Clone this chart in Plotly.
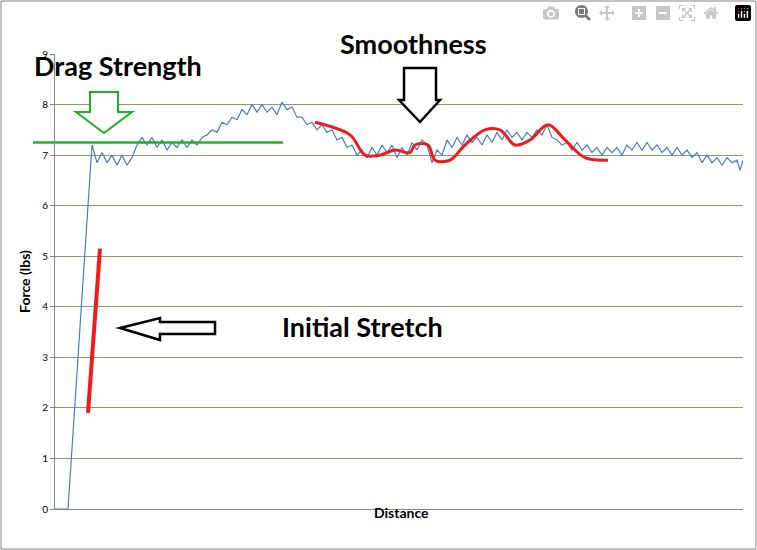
import plotly.graph_objects as go

# force trace (distance in arbitrary units)
dist = [0, 13, 37, 42, 47, 52, 57, 62, 67, 72, 77, 82, 87, 92, 97, 102, 107, 112, 117, 122,
        127, 132, 137, 142, 147, 152, 157, 162, 167, 172, 177, 182, 187, 192, 197, 202, 207,
        212, 217, 222, 227, 232, 237, 242, 247, 252, 257, 262, 267, 272, 277, 282, 287, 292,
        297, 302, 307, 312, 317, 322, 327, 332, 337, 342, 347, 352, 357, 362, 367, 372, 377,
        382, 387, 392, 397, 402, 407, 412, 417, 422, 427, 432, 437, 442, 447, 452, 457, 462,
        467, 472, 477, 482, 487, 492, 497, 502, 507, 512, 517, 522, 527, 532, 537, 542, 547,
        552, 557, 562, 567, 572, 577, 582, 587, 592, 597, 602, 607, 612, 617, 622, 627, 632,
        637, 642, 647, 652, 657, 662, 667, 672, 677, 682, 685, 688]
force = [0, 0, 7.2, 6.85, 7.05, 6.85, 7.0, 6.8, 7.0, 6.8, 6.95, 7.2, 7.35, 7.2, 7.35, 7.15,
         7.3, 7.1, 7.25, 7.15, 7.3, 7.15, 7.3, 7.2, 7.35, 7.4, 7.5, 7.45, 7.65, 7.6, 7.75, 7.7,
         7.9, 7.8, 8.0, 7.85, 8.0, 7.85, 7.95, 7.8, 8.05, 7.9, 7.95, 7.75, 7.75, 7.6, 7.65, 7.5,
         7.6, 7.45, 7.5, 7.3, 7.35, 7.15, 7.2, 7.0, 7.1, 6.95, 7.15, 7.0, 7.2, 7.05, 7.2, 6.95,
         7.15, 7.0, 7.25, 7.1, 7.3, 7.2, 6.85, 7.1, 7.0, 7.3, 7.15, 7.35, 7.2, 7.4, 7.25, 7.35,
         7.2, 7.4, 7.25, 7.45, 7.3, 7.5, 7.35, 7.45, 7.3, 7.45, 7.35, 7.5, 7.4, 7.6, 7.35, 7.3,
         7.2, 7.25, 7.1, 7.25, 7.1, 7.2, 7.05, 7.15, 7.0, 7.15, 7.05, 7.15, 7.0, 7.2, 7.1, 7.25,
         7.1, 7.25, 7.1, 7.2, 7.05, 7.15, 7.0, 7.15, 7.0, 7.1, 6.95, 7.05, 6.85, 7.0, 6.85,
         6.95, 6.8, 6.95, 6.85, 6.9, 6.7, 6.9]

smooth_x = [260, 295, 310, 325, 340, 355, 360, 373, 380, 395, 410, 430, 445, 460, 475, 493, 510, 530, 553]
smooth_y = [7.65, 7.4, 7.0, 7.0, 7.1, 7.05, 7.2, 7.2, 6.9, 6.9, 7.2, 7.5, 7.5, 7.2, 7.3, 7.6, 7.3, 6.95, 6.9]

stretch_x = [33, 45]
stretch_y = [1.9, 5.15]

drag_level = 7.25

W, H = 757, 550
L, R, T, B = 55, 743, 54, 509


def px(x, y):
    return (x - L) / (R - L), (B - y) / (B - T)


def poly(points):
    parts = []
    for i, (x, y) in enumerate(points):
        u, v = px(x, y)
        parts.append(("M" if i == 0 else "L") + f"{u:.4f},{v:.4f}")
    return " ".join(parts) + " Z"


fig = go.Figure()
fig.add_trace(go.Scatter(x=dist, y=force, mode="lines",
                         line=dict(color="#4a7ebb", width=1.2), showlegend=False))
fig.add_trace(go.Scatter(x=smooth_x, y=smooth_y, mode="lines",
                         line=dict(color="#ee1c1c", width=3, shape="spline"), showlegend=False))
fig.add_trace(go.Scatter(x=stretch_x, y=stretch_y, mode="lines",
                         line=dict(color="#ee1c1c", width=4), showlegend=False))

green_arrow = [(90, 92), (118, 92), (118, 112), (132, 112), (104, 133), (76, 112), (90, 112)]
down_arrow = [(404, 68), (436, 68), (436, 100), (440, 100), (420, 122), (399, 100), (404, 100)]
left_arrow = [(120, 328), (160, 318), (160, 322), (215, 322), (215, 334), (160, 334), (160, 340)]

shapes = [
    dict(type="line", xref="paper", yref="y", x0=px(33, 0)[0], x1=px(283, 0)[0],
         y0=drag_level, y1=drag_level, line=dict(color="#22b022", width=2.5)),
    dict(type="path", xref="paper", yref="paper", path=poly(green_arrow),
         line=dict(color="#22b022", width=2), fillcolor="white"),
    dict(type="path", xref="paper", yref="paper", path=poly(down_arrow),
         line=dict(color="black", width=2.5), fillcolor="white"),
    dict(type="path", xref="paper", yref="paper", path=poly(left_arrow),
         line=dict(color="black", width=2.5), fillcolor="white"),
    dict(type="rect", xref="paper", yref="paper", x0=px(1, 0)[0], x1=px(756, 0)[0],
         y0=px(0, 549)[1], y1=px(0, 1)[1], line=dict(color="#868686", width=1), layer="below"),
]

big = dict(family="Lato, Open Sans, sans-serif", size=27, color="black")
annotations = []
for text, x, y in [("Drag Strength", 118, 65), ("Smoothness", 413, 43), ("Initial Stretch", 362, 326)]:
    u, v = px(x, y)
    annotations.append(dict(text=f"<b>{text}</b>", x=u, y=v, xref="paper", yref="paper",
                            showarrow=False, font=big, xanchor="center", yanchor="middle"))
u, v = px(401, 523)
annotations.append(dict(text="<b>Distance</b>", x=u, y=v, xref="paper", yref="paper",
                        showarrow=False, font=dict(family="Lato, sans-serif", size=14, color="black")))

fig.update_layout(
    width=W, height=H,
    margin=dict(l=L, r=W - R, t=T, b=H - B, autoexpand=False),
    paper_bgcolor="white", plot_bgcolor="white",
    font=dict(color="black"),
    shapes=shapes, annotations=annotations,
    xaxis=dict(range=[0, 688], showticklabels=False, showgrid=False, zeroline=False,
               showline=True, linecolor="#868686", ticks="", automargin=False),
    yaxis=dict(range=[0, 9], dtick=1, showgrid=True, gridcolor="#8e9a68", zeroline=False,
               showline=True, linecolor="#868686", ticks="outside", ticklen=4, automargin=False,
               tickcolor="#868686", tickfont=dict(family="Lato, sans-serif", size=10, color="black"),
               title=dict(text="<b>Force (lbs)</b>",
                          font=dict(family="Lato, sans-serif", size=14, color="black"),
                          standoff=8)),
)

fig.write_html("out.html", post_script="document.body.style.margin='0';")
